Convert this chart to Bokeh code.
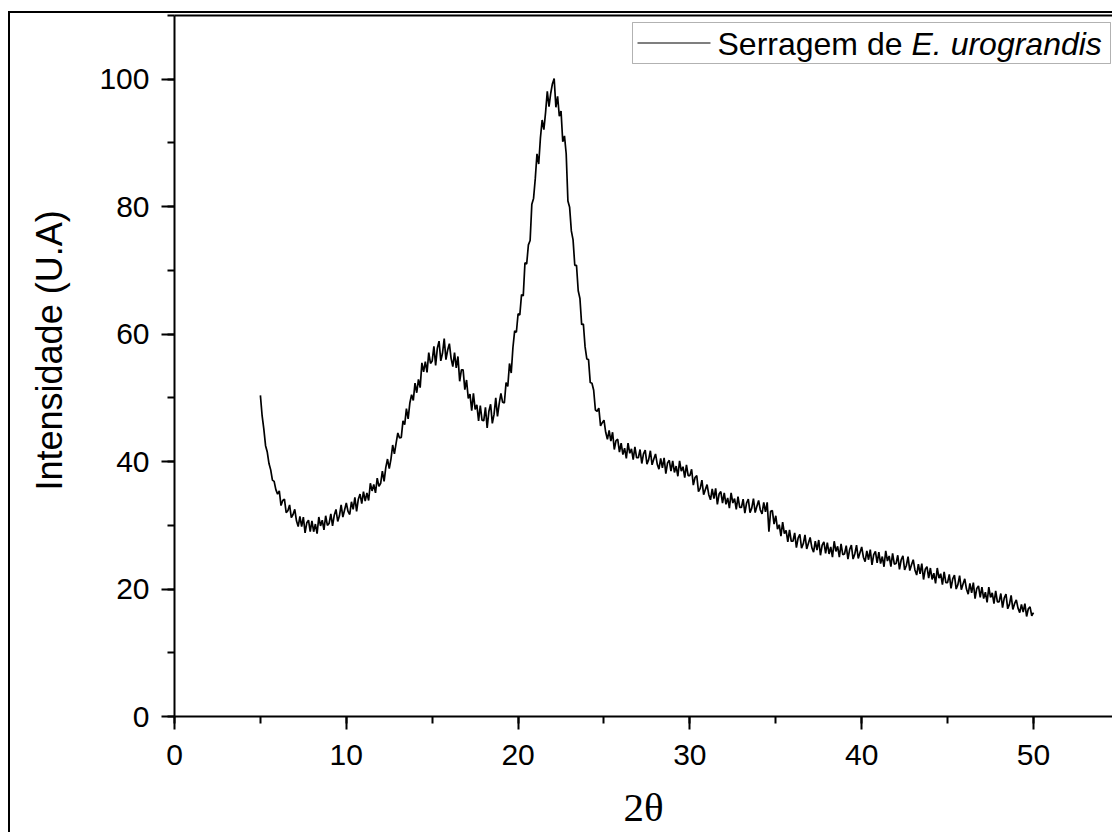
import numpy as np
from bokeh.plotting import figure
from bokeh.models import Range1d, SingleIntervalTicker, LinearAxis, BoxAnnotation, Label, Title
from bokeh.embed import file_html
from bokeh.resources import INLINE

# Diffractogram intensity, 2-theta from 5.0 to 50.0 in 0.1 steps
intensity = [
    50.4, 47.2, 45.1, 42.5, 41.5, 39.7, 38.7, 37.1, 36.9, 35.6,
    34.9, 35.4, 33.1, 33.9, 34.1, 32.0, 32.3, 33.2, 31.2, 31.7,
    32.5, 30.7, 29.8, 31.4, 29.8, 31.3, 28.8, 30.4, 30.8, 29.0,
    30.7, 29.0, 30.2, 28.7, 31.3, 29.9, 30.8, 29.3, 31.5, 30.0,
    30.3, 31.8, 29.9, 31.6, 32.5, 30.6, 31.5, 33.2, 31.3, 32.4,
    33.5, 32.2, 31.7, 33.7, 32.5, 34.4, 32.2, 34.1, 34.9, 33.4,
    35.3, 33.8, 35.1, 33.9, 36.6, 35.4, 36.4, 35.1, 37.4, 36.1,
    36.6, 38.5, 36.9, 39.1, 40.4, 38.9, 40.4, 42.6, 41.2, 42.9,
    44.5, 43.7, 43.8, 46.4, 45.8, 48.3, 46.7, 49.2, 50.5, 49.6,
    52.3, 50.8, 52.9, 51.6, 55.5, 54.1, 55.7, 54.0, 57.1, 55.4,
    55.8, 58.1, 55.1, 57.8, 58.9, 55.8, 57.0, 59.3, 56.0, 57.5,
    58.5, 56.2, 54.9, 57.1, 54.7, 56.5, 52.6, 54.4, 54.4, 51.3,
    52.8, 49.9, 50.6, 48.0, 50.7, 48.2, 48.9, 46.4, 48.8, 46.5,
    46.4, 48.5, 45.3, 47.9, 49.0, 46.0, 47.4, 50.0, 47.1, 49.1,
    50.7, 49.3, 49.2, 52.4, 51.8, 55.4, 53.9, 57.9, 60.5, 60.3,
    63.2, 63.0, 66.2, 66.0, 71.2, 71.0, 74.0, 74.7, 80.4, 81.3,
    84.4, 88.3, 86.7, 90.8, 93.6, 92.1, 94.8, 98.1, 95.7, 97.8,
    99.3, 100.1, 95.6, 97.3, 94.2, 95.0, 90.2, 91.1, 88.3, 80.9,
    79.9, 76.2, 74.8, 70.8, 70.8, 66.8, 65.6, 61.5, 61.6, 58.0,
    56.1, 56.0, 52.4, 52.3, 51.2, 48.1, 47.9, 48.4, 45.6, 46.1,
    46.5, 44.6, 43.5, 44.9, 43.2, 44.6, 41.9, 43.3, 43.5, 41.5,
    42.9, 41.1, 42.1, 40.5, 42.9, 41.3, 42.0, 40.3, 42.3, 40.6,
    40.6, 41.9, 39.7, 41.2, 41.8, 39.6, 40.3, 41.7, 39.5, 40.4,
    41.2, 39.6, 38.8, 40.5, 39.0, 40.6, 38.1, 39.8, 40.2, 38.5,
    40.1, 38.3, 39.3, 37.7, 40.1, 38.5, 39.2, 37.5, 39.5, 37.8,
    37.8, 38.8, 36.3, 37.5, 37.8, 35.3, 35.8, 37.1, 34.8, 35.6,
    36.4, 34.8, 34.0, 35.7, 34.2, 35.8, 33.3, 34.9, 35.3, 33.5,
    35.1, 33.3, 34.3, 32.7, 35.1, 33.5, 34.2, 32.5, 34.5, 32.8,
    32.8, 34.1, 31.9, 33.5, 34.1, 32.0, 32.7, 34.2, 32.0, 33.0,
    33.9, 32.4, 31.8, 33.6, 32.1, 33.6, 29.0, 32.2, 32.3, 30.2,
    31.5, 29.4, 30.1, 28.3, 30.5, 28.7, 29.2, 27.4, 29.3, 27.5,
    27.5, 28.8, 26.5, 28.0, 28.6, 26.4, 27.1, 28.5, 26.3, 27.2,
    28.1, 26.5, 25.8, 27.5, 26.1, 27.7, 25.3, 26.9, 27.4, 25.6,
    27.3, 25.5, 26.6, 25.0, 27.5, 25.9, 26.7, 25.0, 27.1, 25.4,
    25.5, 26.8, 24.7, 26.2, 26.9, 24.7, 25.5, 26.9, 24.8, 25.7,
    26.6, 25.0, 24.3, 26.0, 24.6, 26.2, 23.8, 25.4, 25.9, 24.1,
    25.8, 24.0, 25.1, 23.5, 26.0, 24.4, 25.2, 23.5, 25.6, 23.9,
    24.0, 25.3, 23.1, 24.6, 25.2, 23.0, 23.7, 25.1, 22.9, 23.8,
    24.6, 23.0, 22.2, 23.9, 22.4, 24.0, 21.5, 23.1, 23.5, 21.7,
    23.3, 21.5, 22.5, 20.9, 23.3, 21.7, 22.4, 20.7, 22.7, 21.0,
    21.0, 22.3, 20.1, 21.6, 22.2, 20.0, 20.7, 22.1, 19.9, 20.8,
    21.6, 20.0, 19.2, 20.9, 19.4, 21.0, 18.5, 20.1, 20.5, 18.7,
    20.3, 18.5, 19.5, 17.9, 20.3, 18.7, 19.4, 17.7, 19.7, 18.0,
    18.0, 19.3, 17.1, 18.6, 19.2, 16.9, 17.6, 19.0, 16.8, 17.7,
    18.3, 17.0, 16.3, 17.6, 16.4, 17.7, 15.7, 16.9, 17.2, 15.8,
    16.3,
]
two_theta_start = 5.0
two_theta_end = 50.0
two_theta = np.linspace(two_theta_start, two_theta_end, len(intensity))

x_tick_interval = 10
y_tick_interval = 20
x_label = "2\u03b8"
y_label = "Intensidade (U.A)"
series_label_plain = "Serragem de "
series_label_italic = "E. urograndis"

FONT = "Liberation Sans"

p = figure(width=1112, height=832, output_backend="svg", toolbar_location=None,
           x_range=Range1d(0, 54.6), y_range=Range1d(0, 110),
           min_border_left=173, min_border_right=0, min_border_top=15,
           min_border_bottom=116)
p.grid.visible = False
p.outline_line_color = None
p.background_fill_color = "white"
p.border_fill_color = None
# outer frame lines of the figure (left and top), drawn as the element background
p.styles = {
    "background": "linear-gradient(#000, #000) 8px 11px / 2px 2000px no-repeat, "
                  "linear-gradient(#000, #000) 8px 11px / 2000px 2px no-repeat, #fff"
}

p.line(two_theta, intensity, line_color="black", line_width=1.7)

for ax, interval in ((p.xaxis[0], x_tick_interval), (p.yaxis[0], y_tick_interval)):
    ax.ticker = SingleIntervalTicker(interval=interval, num_minor_ticks=2)
    ax.axis_line_width = 2
    ax.axis_line_color = "black"
    ax.major_tick_line_width = 2
    ax.minor_tick_line_width = 2
    ax.major_tick_line_color = "black"
    ax.minor_tick_line_color = "black"
    ax.major_tick_in = 0
    ax.major_tick_out = 13
    ax.minor_tick_in = 0
    ax.minor_tick_out = 7
    ax.major_label_text_font = FONT
    ax.major_label_text_font_size = "30px"
    ax.major_label_text_color = "black"
    ax.axis_label_text_font_style = "normal"
    ax.axis_label_text_color = "black"

p.xaxis.axis_label = x_label
p.xaxis.axis_label_text_font = "Liberation Serif"
p.xaxis.axis_label_text_font_size = "41px"
p.xaxis.major_label_standoff = 15
p.xaxis.axis_label_standoff = 16

p.yaxis.major_label_standoff = 12

top_axis = LinearAxis(ticker=SingleIntervalTicker(interval=x_tick_interval),
                      axis_line_width=2, axis_line_color="black",
                      major_tick_line_color=None, minor_tick_line_color=None,
                      major_label_text_font_size="0px", major_label_text_alpha=0)
p.add_layout(top_axis, "above")

# y axis title
p.add_layout(Title(text=y_label, align="left", offset=226, standoff=53,
                   text_font=FONT, text_font_size="36px", text_font_style="normal",
                   text_color="black"), "left")

# legend
p.add_layout(BoxAnnotation(left=632, right=1110, top=22, bottom=63,
                           left_units="canvas", right_units="canvas",
                           top_units="canvas", bottom_units="canvas",
                           fill_color="white", fill_alpha=1,
                           line_color="black", line_width=1))
p.add_layout(BoxAnnotation(left=637, right=710, top=42, bottom=43,
                           left_units="canvas", right_units="canvas",
                           top_units="canvas", bottom_units="canvas",
                           fill_color="black", fill_alpha=1, line_color=None))
p.add_layout(Label(x=717, y=43, x_units="canvas", y_units="canvas",
                   text=series_label_plain, text_baseline="middle",
                   text_font=FONT, text_font_size="32px", text_color="black"))
p.add_layout(Label(x=911, y=43, x_units="canvas", y_units="canvas",
                   text=series_label_italic, text_baseline="middle",
                   text_font=FONT, text_font_size="32px", text_font_style="italic",
                   text_color="black"))

open("out.html", "w").write(file_html(p, INLINE))
